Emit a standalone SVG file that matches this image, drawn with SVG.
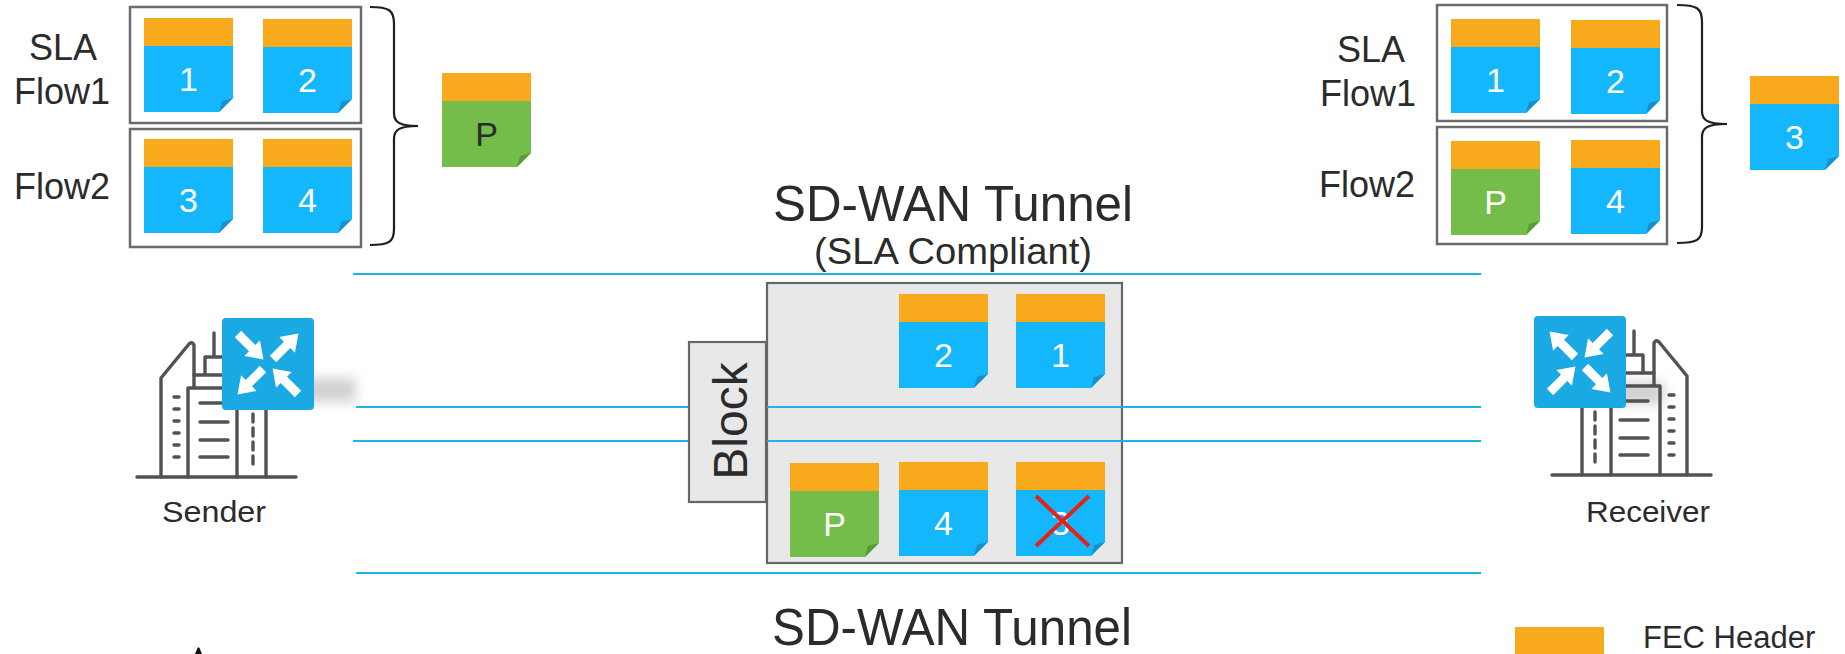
<svg xmlns="http://www.w3.org/2000/svg" xmlns:xlink="http://www.w3.org/1999/xlink" width="1845" height="654" viewBox="0 0 1845 654">
  <style>
    .t { font-family: "Liberation Sans", Arial, sans-serif; fill: #2b2b2b; }
    .num { font-family: "Liberation Sans", Arial, sans-serif; font-size: 34px; fill: #ffffff; text-anchor: middle; }
    .dark { fill: #2b2b2b; }
    .frame { fill: none; stroke: #6b6b6b; stroke-width: 2.5; }
    .brace { fill: none; stroke: #1e1e1e; stroke-width: 2.2; }
    .hdr { fill: #f9aa1c; }
    .blue { fill: #14b7fc; }
    .bfold { fill: #1791cc; }
    .green { fill: #74bd4a; }
    .gfold { fill: #579a38; }
    .link { stroke: #1cb4e4; stroke-width: 2.2; fill: none; }
    .bld { fill: none; stroke: #525252; stroke-width: 3.4; stroke-linecap: round; stroke-linejoin: round; }
    .router { fill: #1aa9e2; }
    .arrow { fill: #ffffff; }
  </style>
  <defs>
    <filter id="soft" x="-60%" y="-60%" width="220%" height="220%">
      <feGaussianBlur stdDeviation="6"/>
    </filter>
    <!-- packet: orange FEC header on a sticky-note body -->
    <g id="pkt-b">
      <rect class="hdr" width="89" height="28"/>
      <path class="blue" d="M0,28H89V80L75,94H0Z"/>
      <path class="bfold" d="M75,94L89,80L78,83Z"/>
    </g>
    <g id="pkt-g">
      <rect class="hdr" width="89" height="28"/>
      <path class="green" d="M0,28H89V80L75,94H0Z"/>
      <path class="gfold" d="M75,94L89,80L78,83Z"/>
    </g>
    <polygon id="arr" class="arrow" points="0,-4.5 20,-4.5 20,-11 36,0 20,11 20,4.5 0,4.5"/>
    <!-- office building with edge router -->
    <g id="site">
      <g class="bld">
        <path d="M137,477H296"/>
        <path d="M161,477V378L189,344Q192,341 194,345V375"/>
        <path d="M188,477V388H194V375H222M205,375V357H222M214,357V333M194,388H222"/>
        <path d="M237,477V405M266,477V405"/>
        <path d="M174,397H179M174,409H179M174,421H179M174,433H179M174,445H179M174,457H179"/>
        <path d="M200,403H228M200,422H228M200,440H228M200,457H228"/>
        <path d="M253,414V466" stroke-dasharray="8 6"/>
      </g>
      <g transform="translate(222,318)">
        <rect class="router" width="92" height="92" rx="4"/>
        <use xlink:href="#arr" transform="translate(16,16) rotate(45)"/>
        <use xlink:href="#arr" transform="translate(51,41) rotate(-45)"/>
        <use xlink:href="#arr" transform="translate(41,51) rotate(135)"/>
        <use xlink:href="#arr" transform="translate(76,76) rotate(-135)"/>
      </g>
    </g>
  </defs>

  <!-- sender side: flows before FEC encoding -->
  <g id="sender-flows">
    <rect class="frame" x="130" y="7" width="231" height="116"/>
    <rect class="frame" x="130" y="129" width="231" height="118"/>
    <text class="t" x="63" y="60" font-size="36" text-anchor="middle">SLA</text>
    <text class="t" x="62" y="104" font-size="36" text-anchor="middle">Flow1</text>
    <text class="t" x="62" y="199" font-size="36" text-anchor="middle">Flow2</text>
    <g id="s-pkt1"><use xlink:href="#pkt-b" x="144" y="18"/><text class="num" x="188.5" y="91">1</text></g>
    <g id="s-pkt2"><use xlink:href="#pkt-b" x="263" y="19"/><text class="num" x="307.5" y="92">2</text></g>
    <g id="s-pkt3"><use xlink:href="#pkt-b" x="144" y="139"/><text class="num" x="188.5" y="212">3</text></g>
    <g id="s-pkt4"><use xlink:href="#pkt-b" x="263" y="139"/><text class="num" x="307.5" y="212">4</text></g>
    <path class="brace" d="M370,7C389,7 394,10 394,24V113C394,122 399,126 418,126C399,126 394,130 394,139V229C394,242 389,245 370,245"/>
    <g id="s-parity"><use xlink:href="#pkt-g" x="442" y="73"/><text class="num dark" x="486.5" y="146">P</text></g>
  </g>

  <!-- receiver side: recovered flows -->
  <g id="receiver-flows">
    <rect class="frame" x="1437" y="5" width="230" height="116"/>
    <rect class="frame" x="1437" y="127" width="230" height="117"/>
    <text class="t" x="1371" y="62" font-size="36" text-anchor="middle">SLA</text>
    <text class="t" x="1368" y="106" font-size="36" text-anchor="middle">Flow1</text>
    <text class="t" x="1367" y="197" font-size="36" text-anchor="middle">Flow2</text>
    <g id="r-pkt1"><use xlink:href="#pkt-b" x="1451" y="19"/><text class="num" x="1495.5" y="92">1</text></g>
    <g id="r-pkt2"><use xlink:href="#pkt-b" x="1571" y="20"/><text class="num" x="1615.5" y="93">2</text></g>
    <g id="r-parity"><use xlink:href="#pkt-g" x="1451" y="141"/><text class="num" x="1495.5" y="214">P</text></g>
    <g id="r-pkt4"><use xlink:href="#pkt-b" x="1571" y="140"/><text class="num" x="1615.5" y="213">4</text></g>
    <path class="brace" d="M1677,5C1697,5 1702,8 1702,22V111C1702,120 1707,124 1727,124C1707,124 1702,128 1702,137V227C1702,240 1697,243 1677,243"/>
    <g id="r-pkt3"><use xlink:href="#pkt-b" x="1750" y="76"/><text class="num" x="1794.5" y="149">3</text></g>
  </g>

  <!-- tunnel captions -->
  <g id="tunnel-top">
    <text class="t" x="953" y="221" font-size="50" text-anchor="middle" textLength="360" lengthAdjust="spacingAndGlyphs">SD-WAN Tunnel</text>
    <text class="t" x="953" y="264" font-size="36" text-anchor="middle" textLength="278" lengthAdjust="spacingAndGlyphs">(SLA Compliant)</text>
  </g>
  <g id="tunnel-bottom">
    <text class="t" x="952" y="645" font-size="52" text-anchor="middle" textLength="360" lengthAdjust="spacingAndGlyphs">SD-WAN Tunnel</text>
  </g>

  <!-- FEC block background -->
  <g id="block-frame">
    <rect x="767" y="283" width="355" height="280" fill="#e8e8e8" stroke="#666666" stroke-width="2.2"/>
  </g>

  <!-- tunnel paths -->
  <g id="connectors">
    <line class="link" x1="353" y1="274" x2="1481" y2="274"/>
    <line class="link" x1="356" y1="407" x2="1481" y2="407"/>
    <line class="link" x1="353" y1="441" x2="1481" y2="441"/>
    <line class="link" x1="356" y1="573" x2="1481" y2="573"/>
  </g>

  <g id="block-tab">
    <rect x="689" y="342" width="77" height="160" fill="#e8e8e8" stroke="#666666" stroke-width="2.2"/>
    <text class="t" font-size="48" text-anchor="middle" transform="translate(747,421) rotate(-90)">Block</text>
  </g>

  <g id="b-pkt2"><use xlink:href="#pkt-b" x="899" y="294"/><text class="num" x="943.5" y="367">2</text></g>
  <g id="b-pkt1"><use xlink:href="#pkt-b" x="1016" y="294"/><text class="num" x="1060.5" y="367">1</text></g>
  <g id="b-parity"><use xlink:href="#pkt-g" x="790" y="463"/><text class="num" x="834.5" y="536">P</text></g>
  <g id="b-pkt4"><use xlink:href="#pkt-b" x="899" y="462"/><text class="num" x="943.5" y="535">4</text></g>
  <g id="b-pkt3">
    <use xlink:href="#pkt-b" x="1016" y="462"/><text class="num" x="1060.5" y="535">3</text>
    <path d="M1036,496L1089,546M1089,496L1036,546" stroke="#e2231a" stroke-width="4" fill="none"/>
  </g>

  <!-- end sites -->
  <g id="sender">
    <rect x="300" y="378" width="56" height="24" fill="#9a9a9a" opacity="0.45" filter="url(#soft)"/>
    <use xlink:href="#site"/>
    <text class="t" x="214" y="522" font-size="29" text-anchor="middle" textLength="104" lengthAdjust="spacingAndGlyphs">Sender</text>
  </g>
  <g id="receiver">
    <rect x="1612" y="382" width="52" height="22" fill="#9a9a9a" opacity="0.45" filter="url(#soft)"/>
    <use xlink:href="#site" transform="translate(1848,-2) scale(-1,1)"/>
    <text class="t" x="1648" y="522" font-size="29" text-anchor="middle" textLength="124" lengthAdjust="spacingAndGlyphs">Receiver</text>
  </g>

  <!-- legend -->
  <g id="legend">
    <rect class="hdr" x="1515" y="627" width="89" height="30"/>
    <text class="t" x="1643" y="648" font-size="31">FEC Header</text>
    <path d="M195,654L197.5,648Q198.5,646.5 199.5,648L202,654Z" fill="#111111"/>
  </g>
</svg>
